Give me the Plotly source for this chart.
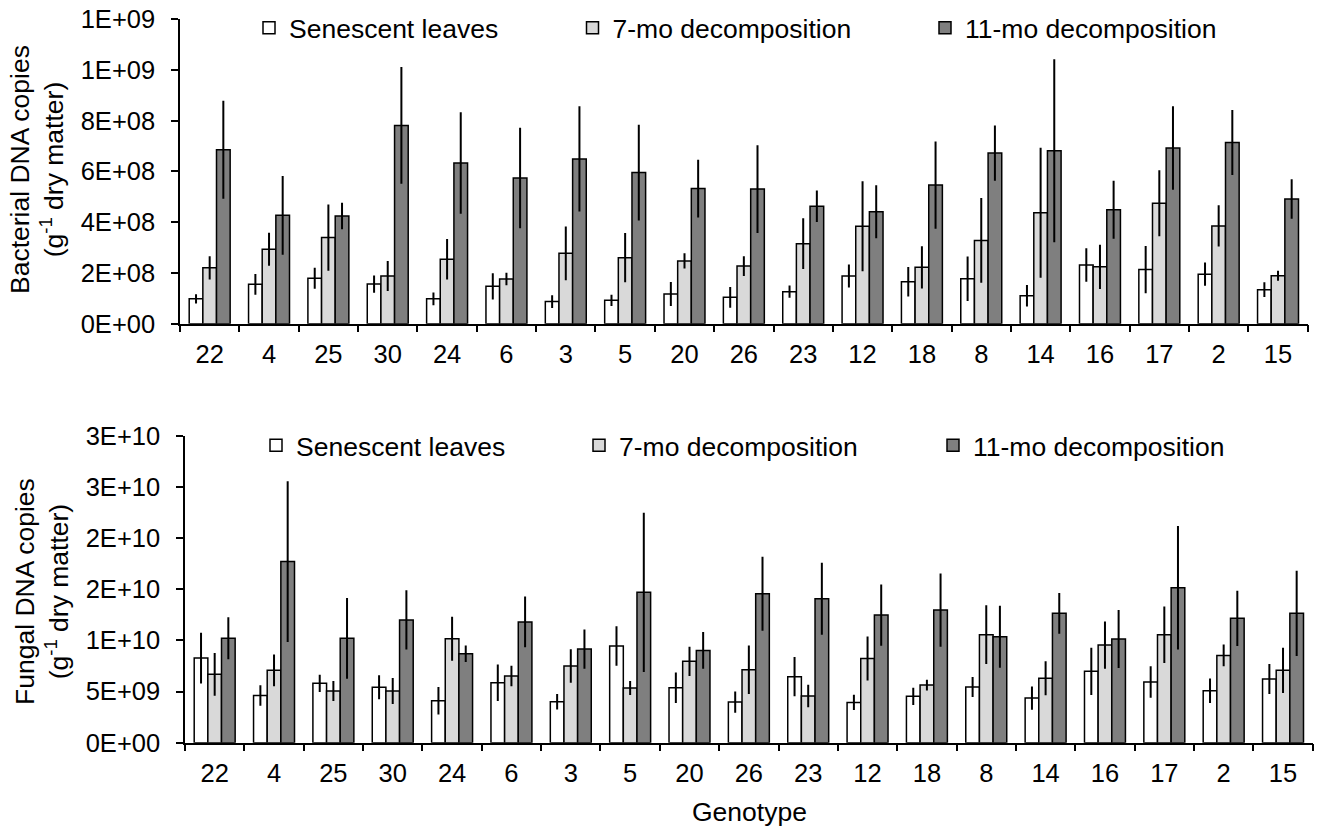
import plotly.graph_objects as go

W, H = 1323, 833

genotypes = ["22", "4", "25", "30", "24", "6", "3", "5", "20", "26",
             "23", "12", "18", "8", "14", "16", "17", "2", "15"]

series_names = ["Senescent leaves", "7-mo decomposition", "11-mo decomposition"]

# Bacterial DNA copies (g-1 dry matter)
bac_sen = [0.98e8, 1.55e8, 1.79e8, 1.56e8, 0.98e8, 1.47e8, 0.87e8, 0.92e8, 1.17e8, 1.04e8,
           1.26e8, 1.88e8, 1.65e8, 1.77e8, 1.10e8, 2.31e8, 2.13e8, 1.95e8, 1.34e8]
bac_sen_err = [0.18e8, 0.41e8, 0.41e8, 0.34e8, 0.25e8, 0.52e8, 0.25e8, 0.22e8, 0.47e8, 0.41e8,
               0.24e8, 0.45e8, 0.58e8, 0.88e8, 0.42e8, 0.66e8, 0.93e8, 0.46e8, 0.29e8]
bac_7 = [2.20e8, 2.93e8, 3.39e8, 1.88e8, 2.54e8, 1.76e8, 2.77e8, 2.60e8, 2.47e8, 2.27e8,
         3.15e8, 3.84e8, 2.22e8, 3.28e8, 4.37e8, 2.24e8, 4.74e8, 3.85e8, 1.89e8]
bac_7_err = [0.46e8, 0.65e8, 1.30e8, 0.59e8, 0.80e8, 0.25e8, 1.06e8, 0.97e8, 0.30e8, 0.39e8,
             1.00e8, 1.77e8, 0.83e8, 1.67e8, 2.56e8, 0.87e8, 1.30e8, 0.81e8, 0.20e8]
bac_11 = [6.85e8, 4.27e8, 4.24e8, 7.81e8, 6.33e8, 5.74e8, 6.49e8, 5.95e8, 5.32e8, 5.30e8,
          4.63e8, 4.41e8, 5.46e8, 6.72e8, 6.81e8, 4.49e8, 6.92e8, 7.14e8, 4.91e8]
bac_11_err = [1.93e8, 1.55e8, 0.52e8, 2.30e8, 2.00e8, 1.98e8, 2.07e8, 1.89e8, 1.14e8, 1.73e8,
              0.62e8, 1.04e8, 1.72e8, 1.09e8, 3.60e8, 1.14e8, 1.64e8, 1.28e8, 0.78e8]

# Fungal DNA copies (g-1 dry matter)
fun_sen = [8.27e9, 4.62e9, 5.80e9, 5.41e9, 4.10e9, 5.86e9, 4.00e9, 9.45e9, 5.37e9, 3.97e9,
           6.45e9, 3.94e9, 4.53e9, 5.44e9, 4.36e9, 6.97e9, 5.93e9, 5.08e9, 6.22e9]
fun_sen_err = [2.48e9, 1.00e9, 0.85e9, 1.17e9, 1.34e9, 1.79e9, 0.75e9, 1.92e9, 1.50e9, 1.04e9,
               1.92e9, 0.75e9, 0.85e9, 0.98e9, 1.14e9, 2.31e9, 1.53e9, 1.20e9, 1.47e9]
fun_7 = [6.68e9, 7.07e9, 5.05e9, 5.05e9, 10.16e9, 6.51e9, 7.49e9, 5.34e9, 7.95e9, 7.13e9,
         4.56e9, 8.24e9, 5.63e9, 10.55e9, 6.29e9, 9.54e9, 10.55e9, 8.53e9, 7.07e9]
fun_7_err = [2.08e9, 1.56e9, 0.98e9, 1.27e9, 2.15e9, 1.00e9, 1.63e9, 0.68e9, 1.43e9, 2.38e9,
             1.10e9, 2.15e9, 0.52e9, 2.87e9, 1.66e9, 2.31e9, 2.77e9, 1.07e9, 2.21e9]
fun_11 = [10.20e9, 17.70e9, 10.20e9, 12.00e9, 8.70e9, 11.80e9, 9.15e9, 14.70e9, 9.02e9, 14.56e9,
          14.07e9, 12.47e9, 12.96e9, 10.36e9, 12.64e9, 10.13e9, 15.14e9, 12.15e9, 12.64e9]
fun_11_err = [2.05e9, 7.85e9, 3.94e9, 2.90e9, 0.81e9, 2.48e9, 1.92e9, 7.78e9, 1.79e9, 3.62e9,
              3.52e9, 3.00e9, 3.58e9, 3.03e9, 1.99e9, 2.83e9, 6.03e9, 2.70e9, 4.17e9]

bac_ticks = [0, 2e8, 4e8, 6e8, 8e8, 1.0e9, 1.2e9]
bac_ticktext = ["0E+00", "2E+08", "4E+08", "6E+08", "8E+08", "1E+09", "1E+09"]
fun_ticks = [0, 5e9, 1.0e10, 1.5e10, 2.0e10, 2.5e10, 3.0e10]
fun_ticktext = ["0E+00", "5E+09", "1E+10", "2E+10", "2E+10", "3E+10", "3E+10"]

colors = ["#FFFFFF", "#D9D9D9", "#7F7F7F"]
FONT = "Liberation Sans, Arial, sans-serif"
FS = 26.5      # legend and titles
FS_TICK = 25.5  # tick labels

fig = go.Figure()

top = [(bac_sen, bac_sen_err), (bac_7, bac_7_err), (bac_11, bac_11_err)]
bot = [(fun_sen, fun_sen_err), (fun_7, fun_7_err), (fun_11, fun_11_err)]

for i, (vals, errs) in enumerate(top):
    fig.add_trace(go.Bar(
        x=genotypes, y=vals, name=series_names[i],
        marker=dict(color=colors[i], line=dict(color="black", width=1.5)),
        error_y=dict(type="data", array=errs, visible=True, color="black", thickness=2, width=0),
        xaxis="x", yaxis="y", legend=f"legend{i+2}",
    ))
for i, (vals, errs) in enumerate(bot):
    fig.add_trace(go.Bar(
        x=genotypes, y=vals, name=series_names[i],
        marker=dict(color=colors[i], line=dict(color="black", width=1.5)),
        error_y=dict(type="data", array=errs, visible=True, color="black", thickness=2, width=0),
        xaxis="x2", yaxis="y2", legend=f"legend{i+5}",
    ))

def px_x(p):
    return p / W

def px_y(p):
    return 1 - p / H

xdom1 = [px_x(180), px_x(1307.7)]
xdom2 = [px_x(185), px_x(1312.7)]
ydom1 = [px_y(323.7), px_y(19)]
ydom2 = [px_y(742.7), px_y(435.7)]

xcommon = dict(type="category", showline=True, linecolor="black", linewidth=1.5,
               ticks="outside", ticklen=7, tickwidth=1.5, tickcolor="black",
               tickson="boundaries", showgrid=False, zeroline=False,
               tickfont=dict(family=FONT, size=FS_TICK, color="black"), ticklabelstandoff=7)
ycommon = dict(showline=True, linecolor="black", linewidth=1.5,
               ticks="outside", ticklen=7, tickwidth=1.5, tickcolor="black",
               showgrid=False, zeroline=False, ticklabeloverflow="allow",
               tickfont=dict(family=FONT, size=FS_TICK, color="black"), ticklabelstandoff=11)

legend_base = dict(orientation="h", xanchor="left", yanchor="middle", bgcolor="rgba(0,0,0,0)",
                   font=dict(family=FONT, size=FS, color="black"), borderwidth=0)

leg_top_centers = [275, 598.5, 951]
leg_bot_centers = [282, 605, 959]
legends = {"legend": dict(visible=False)}
for i, c in enumerate(leg_top_centers):
    legends[f"legend{i+2}"] = dict(legend_base, x=px_x(c - 26), y=px_y(28))
for i, c in enumerate(leg_bot_centers):
    legends[f"legend{i+5}"] = dict(legend_base, x=px_x(c - 26), y=px_y(445.5))

fig.update_layout(
    width=W, height=H,
    margin=dict(l=0, r=0, t=0, b=0, autoexpand=False),
    showlegend=True,
    paper_bgcolor="white", plot_bgcolor="white",
    barmode="group", bargap=0.31, bargroupgap=0,
    font=dict(family=FONT, size=FS, color="black"),
    xaxis=dict(xcommon, domain=xdom1, anchor="y"),
    yaxis=dict(ycommon, domain=ydom1, anchor="x", range=[0, 1.2e9],
               tickvals=bac_ticks, ticktext=bac_ticktext),
    xaxis2=dict(xcommon, domain=xdom2, anchor="y2"),
    yaxis2=dict(ycommon, domain=ydom2, anchor="x2", range=[0, 3.0e10],
                tickvals=fun_ticks, ticktext=fun_ticktext),
    annotations=[
        dict(text="Bacterial DNA copies<br>(g<sup>-1</sup> dry matter)", textangle=-90,
             x=px_x(37), y=px_y(170), xref="paper", yref="paper", showarrow=False,
             font=dict(family=FONT, size=FS, color="black"), xanchor="center", yanchor="middle"),
        dict(text="Fungal DNA copies<br>(g<sup>-1</sup> dry matter)", textangle=-90,
             x=px_x(42), y=px_y(592), xref="paper", yref="paper", showarrow=False,
             font=dict(family=FONT, size=FS, color="black"), xanchor="center", yanchor="middle"),
        dict(text="Genotype", x=px_x(749), y=px_y(812), xref="paper", yref="paper",
             showarrow=False, font=dict(family=FONT, size=FS, color="black"),
             xanchor="center", yanchor="middle"),
    ],
    **legends,
)

# Remove the browser's default 8px body margin so the figure fills the window exactly.
fig.write_html("out.html", config={"displayModeBar": False},
               post_script="document.body.style.margin='0';")
